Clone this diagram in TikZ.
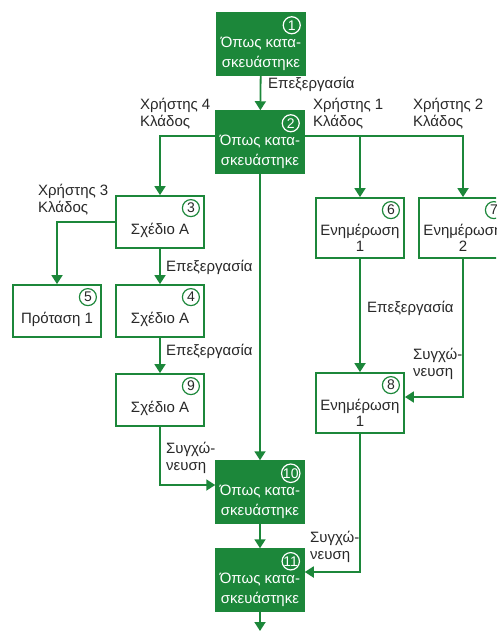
\documentclass[tikz,border=0pt]{standalone}
\usepackage{fontspec}
\setmainfont{Liberation Sans}
\usetikzlibrary{arrows.meta}
\definecolor{grn}{RGB}{28,135,58}
\definecolor{ink}{RGB}{40,40,40}

\tikzset{
  greenbox/.style={draw=grn, fill=grn, line width=1.5pt, minimum width=88pt, minimum height=62pt, inner sep=0pt},
  whitebox/.style={draw=grn, fill=white, line width=1.8pt, minimum width=88pt, minimum height=52pt, inner sep=0pt},
  tallbox/.style={whitebox, minimum height=60pt},
  boxtext/.style={align=center, inner sep=0pt, font=\fontsize{15}{20.5}\selectfont, text=white},
  plaintext/.style={align=center, inner sep=0pt, font=\fontsize{15}{16}\selectfont, text=ink},
  badge/.style={circle, draw=white, line width=1.2pt, minimum size=17pt, inner sep=0pt, font=\fontsize{14}{14}\selectfont, text=white},
  badgew/.style={badge, draw=grn, text=ink},
  lbl/.style={align=left, anchor=west, inner sep=0pt, font=\fontsize{15}{17}\selectfont, text=ink},
  flow/.style={draw=grn, line width=1.8pt, -{Triangle[width=11pt,length=9pt]}}
}

\begin{document}
\begin{tikzpicture}[x=1pt, y=-1pt]
\useasboundingbox (0,0) rectangle (496,631);
\clip (0,0) rectangle (496,631);

% green "as built" boxes
\node[greenbox] (n1)  at (261,44)  {};
\node[greenbox] (n2)  at (260,142) {};
\node[greenbox] (n10) at (260,492) {};
\node[greenbox] (n11) at (260,580) {};
\foreach \n/\k in {n1/1, n2/2, n10/10, n11/11}{
  \node[boxtext] (\n t) at ([yshift=-10pt]\n.center) {Όπως κατα-\\σκευάστηκε};
  \node[badge] (\n b) at ([xshift=-14pt,yshift=-13pt]\n.north east) {\k};
}

% white boxes
\node[whitebox] (n3) at (160,222) {};
\node[whitebox] (n4) at (160,311) {};
\node[whitebox] (n5) at (57,311)  {};
\node[whitebox] (n9) at (160,400) {};
\node[tallbox]  (n6) at (360,228) {};
\node[tallbox]  (n7) at (463,228) {};
\node[tallbox]  (n8) at (360,403) {};

\node[plaintext] (n3t) at ([yshift=-8pt]n3.center) {Σχέδιο Α};
\node[plaintext] (n4t) at ([yshift=-8pt]n4.center) {Σχέδιο Α};
\node[plaintext] (n5t) at ([yshift=-8pt]n5.center) {Πρόταση 1};
\node[plaintext] (n9t) at ([yshift=-8pt]n9.center) {Σχέδιο Α};
\node[plaintext] (n6t) at ([yshift=-10pt]n6.center) {Ενημέρωση\\1};
\node[plaintext] (n7t) at ([yshift=-10pt]n7.center) {Ενημέρωση\\2};
\node[plaintext] (n8t) at ([yshift=-10pt]n8.center) {Ενημέρωση\\1};

\foreach \n/\k in {n3/3, n4/4, n5/5, n9/9, n6/6, n7/7, n8/8}{
  \node[badgew] (\n b) at ([xshift=-14pt,yshift=-13pt]\n.north east) {\k};
}

% connectors
\coordinate (out) at (260,631);
\draw[flow] (n1) -- (n2);
\draw[flow] ([yshift=6pt]n2.west) -| (n3.north);
\draw[flow] ([yshift=6pt]n2.east) -| (n6.north);
\draw[flow] ([yshift=6pt]n2.east) -| (n7.north);
\draw[flow] (n2) -- (n10);
\draw[flow] (n3.west) -| (n5.north);
\draw[flow] (n3) -- (n4);
\draw[flow] (n4) -- (n9);
\draw[flow] (n9.south) |- ([yshift=7pt]n10.west);
\draw[flow] (n6) -- (n8);
\draw[flow] (n7.south) |- ([yshift=6pt]n8.east);
\draw[flow] (n10) -- (n11);
\draw[flow] (n8.south) |- ([yshift=8pt]n11.east);
\draw[flow] (n11.south) -- (out);

% connector labels
\node[lbl] (l12)  at (268,84)  {Επεξεργασία};
\node[lbl] (u4)   at (140,114) {Χρήστης 4\\Κλάδος};
\node[lbl] (u1)   at (313,114) {Χρήστης 1\\Κλάδος};
\node[lbl] (u2)   at (413,114) {Χρήστης 2\\Κλάδος};
\node[lbl] (u3)   at (38,200)  {Χρήστης 3\\Κλάδος};
\node[lbl] (l34)  at (166,267) {Επεξεργασία};
\node[lbl] (l49)  at (166,351) {Επεξεργασία};
\node[lbl] (l68)  at (367,308) {Επεξεργασία};
\node[lbl] (l910) at (166,458) {Συγχώ-\\νευση};
\node[lbl] (l78)  at (413,364) {Συγχώ-\\νευση};
\node[lbl] (l811) at (310,547) {Συγχώ-\\νευση};
\end{tikzpicture}
\end{document}
